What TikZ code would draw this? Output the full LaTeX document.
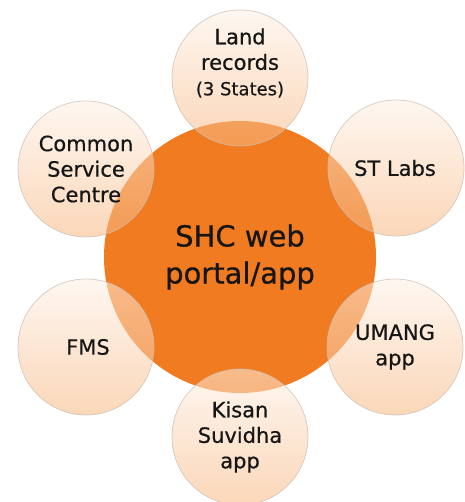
\documentclass[tikz,border=0pt]{standalone}
\usepackage{fontspec}
\setmainfont{DejaVu Sans}
\newfontfamily\lblfont{DejaVu Sans}[FakeBold=0.6]
\definecolor{hub}{RGB}{241,123,33}
\definecolor{petaltop}{RGB}{254,240,228}
\definecolor{petalbot}{RGB}{247,182,126}
\definecolor{ink}{RGB}{22,22,22}
\definecolor{rim}{RGB}{205,190,180}
\tikzset{
  hubnode/.style={circle, fill=hub, minimum size=272pt, inner sep=0pt},
  petal/.style={circle, minimum size=136pt, inner sep=0pt, draw=rim, line width=0.7pt,
    top color=petaltop, bottom color=petalbot, fill opacity=0.55, draw opacity=0.8},
  lbl/.style={align=center, text=ink, font=\lblfont\fontsize{21}{25.5}\selectfont},
  hubtext/.style={align=center, text=ink, font=\lblfont\fontsize{29}{37}\selectfont}
}
\begin{document}
\begin{tikzpicture}[x=1pt,y=-1pt]
\useasboundingbox (0,0) rectangle (464,502);
\node[hubnode] (hub) at (240,257) {};
\node[petal] (land) at (240,78) {};
\node[petal] (st) at (396,168) {};
\node[petal] (umang) at (395,347) {};
\node[petal] (kisan) at (240,437) {};
\node[petal] (fms) at (86,347) {};
\node[petal] (csc) at (86,169) {};
\node[hubtext] (hubt) at (hub) {SHC web\\portal/app};
\node[lbl] (landt) at ([yshift=15pt]land.center) {Land\\records\\{\fontsize{18}{22}\selectfont (3 States)}};
\node[lbl] (stt) at ([xshift=-1pt]st.center) {ST Labs};
\node[lbl] (umangt) at (umang) {UMANG\\app};
\node[lbl] (kisant) at (kisan) {Kisan\\Suvidha\\app};
\node[lbl] (fmst) at ([xshift=2pt]fms.center) {FMS};
\node[lbl] (csct) at (csc) {Common\\Service\\Centre};
\end{tikzpicture}
\end{document}
